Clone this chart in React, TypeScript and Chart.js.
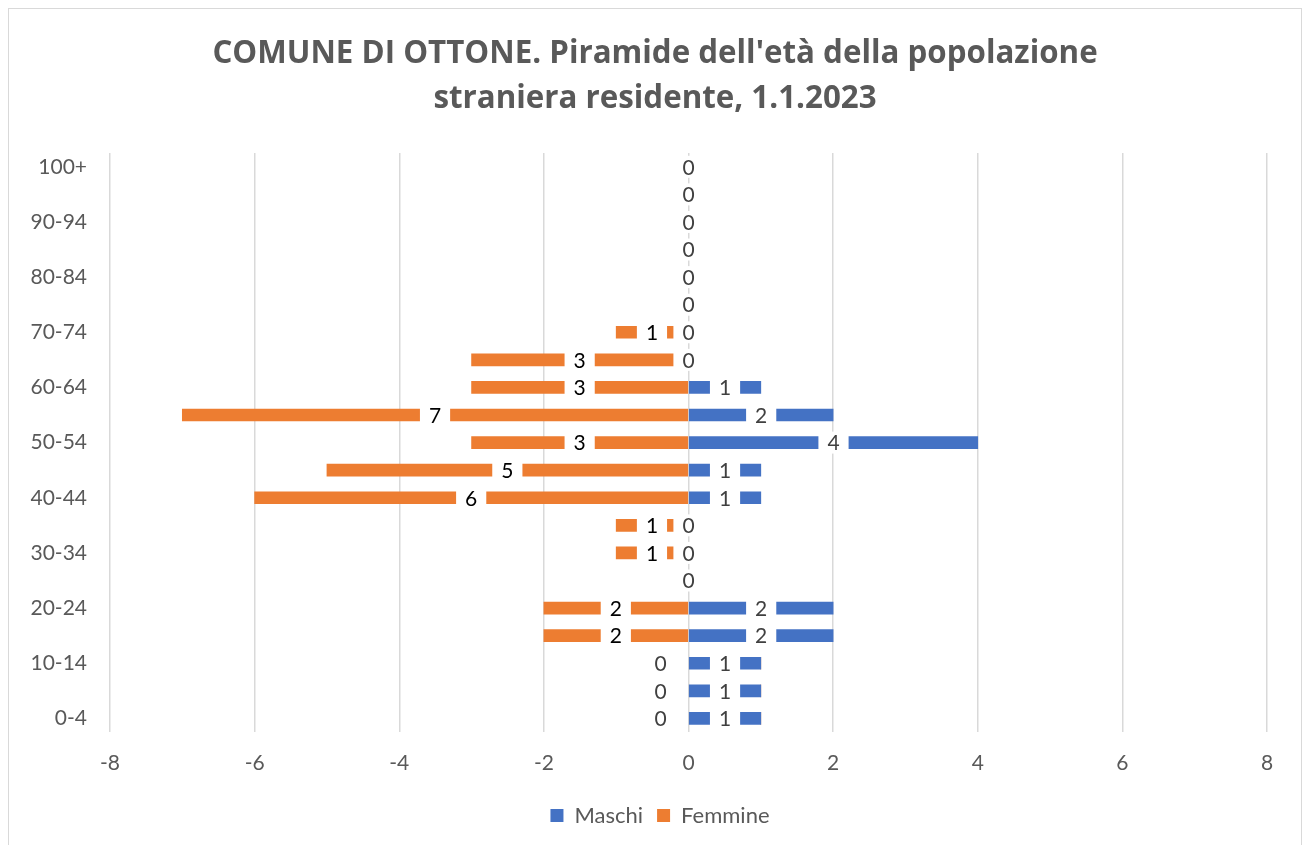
import React, { useEffect, useRef } from "react";
import { Chart, registerables } from "chart.js";

Chart.register(...registerables);

const FONT = "Lato";
const TITLE_FONT = "'Open Sans'";

const ageGroups = [
  "0-4", "5-9", "10-14", "15-19", "20-24", "25-29", "30-34", "35-39", "40-44", "45-49",
  "50-54", "55-59", "60-64", "65-69", "70-74", "75-79", "80-84", "85-89", "90-94", "95-99", "100+",
];

const maschi = [1, 1, 1, 2, 2, 0, 0, 0, 1, 1, 4, 2, 1, 0, 0, 0, 0, 0, 0, 0, 0];
const femmine = [0, 0, 0, -2, -2, 0, -1, -1, -6, -5, -3, -7, -3, -3, -1, 0, 0, 0, 0, 0, 0];

const titleLines = [
  "COMUNE DI OTTONE. Piramide dell'età della popolazione",
  "straniera residente, 1.1.2023",
];

const xMin = -8;
const xMax = 8;
const xStep = 2;

const labelPlugin = {
  id: "barLabels",
  afterDatasetsDraw(chart: any) {
    const ctx = chart.ctx;
    const zero = chart.scales.x.getPixelForValue(0);
    ctx.save();
    ctx.font = `21px ${FONT}`;
    ctx.textAlign = "center";
    ctx.textBaseline = "middle";
    chart.data.datasets.forEach((ds: any, di: number) => {
      const meta = chart.getDatasetMeta(di);
      meta.data.forEach((bar: any, i: number) => {
        const v = ds.data[i];
        const other = chart.data.datasets[1 - di].data[i];
        let x: number;
        if (v === 0) {
          if (di === 1) {
            if (other === 0) return;
            x = zero - 28;
          } else {
            x = zero;
          }
        } else {
          x = (bar.x + bar.base) / 2;
        }
        const text = String(Math.abs(v));
        const w = ctx.measureText(text).width + 18;
        ctx.fillStyle = "#ffffff";
        ctx.fillRect(x - w / 2, bar.y - 11, w, 22);
        ctx.fillStyle = di === 1 && v !== 0 ? "#000000" : "#404040";
        ctx.fillText(text, x, bar.y + 1);
      });
    });
    ctx.restore();
  },
};

// shift the centred title and legend to match the reference's centring
const centerShiftPlugin = {
  id: "centerShift",
  afterLayout(chart: any) {
    const t = chart.titleBlock;
    if (t) {
      t.left += 17;
      t.right += 17;
    }
    const l = chart.legend;
    if (l) {
      l.left += 22;
      l.right += 22;
    }
  },
};

export default function App() {
  const ref = useRef<HTMLCanvasElement | null>(null);
  useEffect(() => {
    if (!ref.current) return;
    const chart = new Chart(ref.current, {
      type: "bar",
      data: {
        labels: ageGroups,
        datasets: [
          { label: "Maschi", data: maschi, backgroundColor: "#4472C4", borderWidth: 0, barThickness: 12 },
          { label: "Femmine", data: femmine, backgroundColor: "#ED7D31", borderWidth: 0, barThickness: 12 },
        ],
      },
      options: {
        indexAxis: "y",
        animation: false,
        responsive: true,
        maintainAspectRatio: false,
        layout: { padding: { top: 22.5, right: 34, bottom: 15.4, left: 0 } },
        scales: {
          x: {
            stacked: true,
            min: xMin,
            max: xMax,
            ticks: { stepSize: xStep, color: "#595959", font: { family: FONT, size: 21 }, padding: 18 },
            grid: { color: "#D9D9D9", lineWidth: 1.5, drawTicks: false },
            border: { display: false },
            afterFit: (s: any) => {
              s.height = 58.4;
            },
          },
          y: {
            stacked: true,
            reverse: true,
            ticks: {
              autoSkip: false,
              color: "#595959",
              font: { family: FONT, size: 21 },
              padding: 23,
              callback: (_v: any, i: number) => (i % 2 === 0 ? ageGroups[i] : ""),
            },
            grid: { display: false, drawTicks: false },
            border: { display: false },
            afterFit: (s: any) => {
              s.width = 101;
            },
          },
        },
        plugins: {
          title: {
            display: true,
            text: titleLines,
            color: "#595959",
            font: { family: TITLE_FONT, size: 31.3, weight: "bold", lineHeight: 45 / 31.3 },
            padding: { top: 0, bottom: 31.5 },
          },
          legend: {
            position: "bottom",
            labels: {
              color: "#595959",
              font: { family: FONT, size: 22 },
              boxWidth: 13,
              boxHeight: 13,
              padding: 14,
            },
          },
          tooltip: { enabled: false },
        },
      },
      plugins: [centerShiftPlugin, labelPlugin],
    });
    return () => chart.destroy();
  }, []);

  return (
    <div
      style={{
        position: "fixed",
        left: 8,
        top: 8,
        width: 1294,
        height: 845,
        boxSizing: "border-box",
        border: "1px solid #D9D9D9",
        background: "#fff",
      }}
    >
      <canvas ref={ref} />
    </div>
  );
}
